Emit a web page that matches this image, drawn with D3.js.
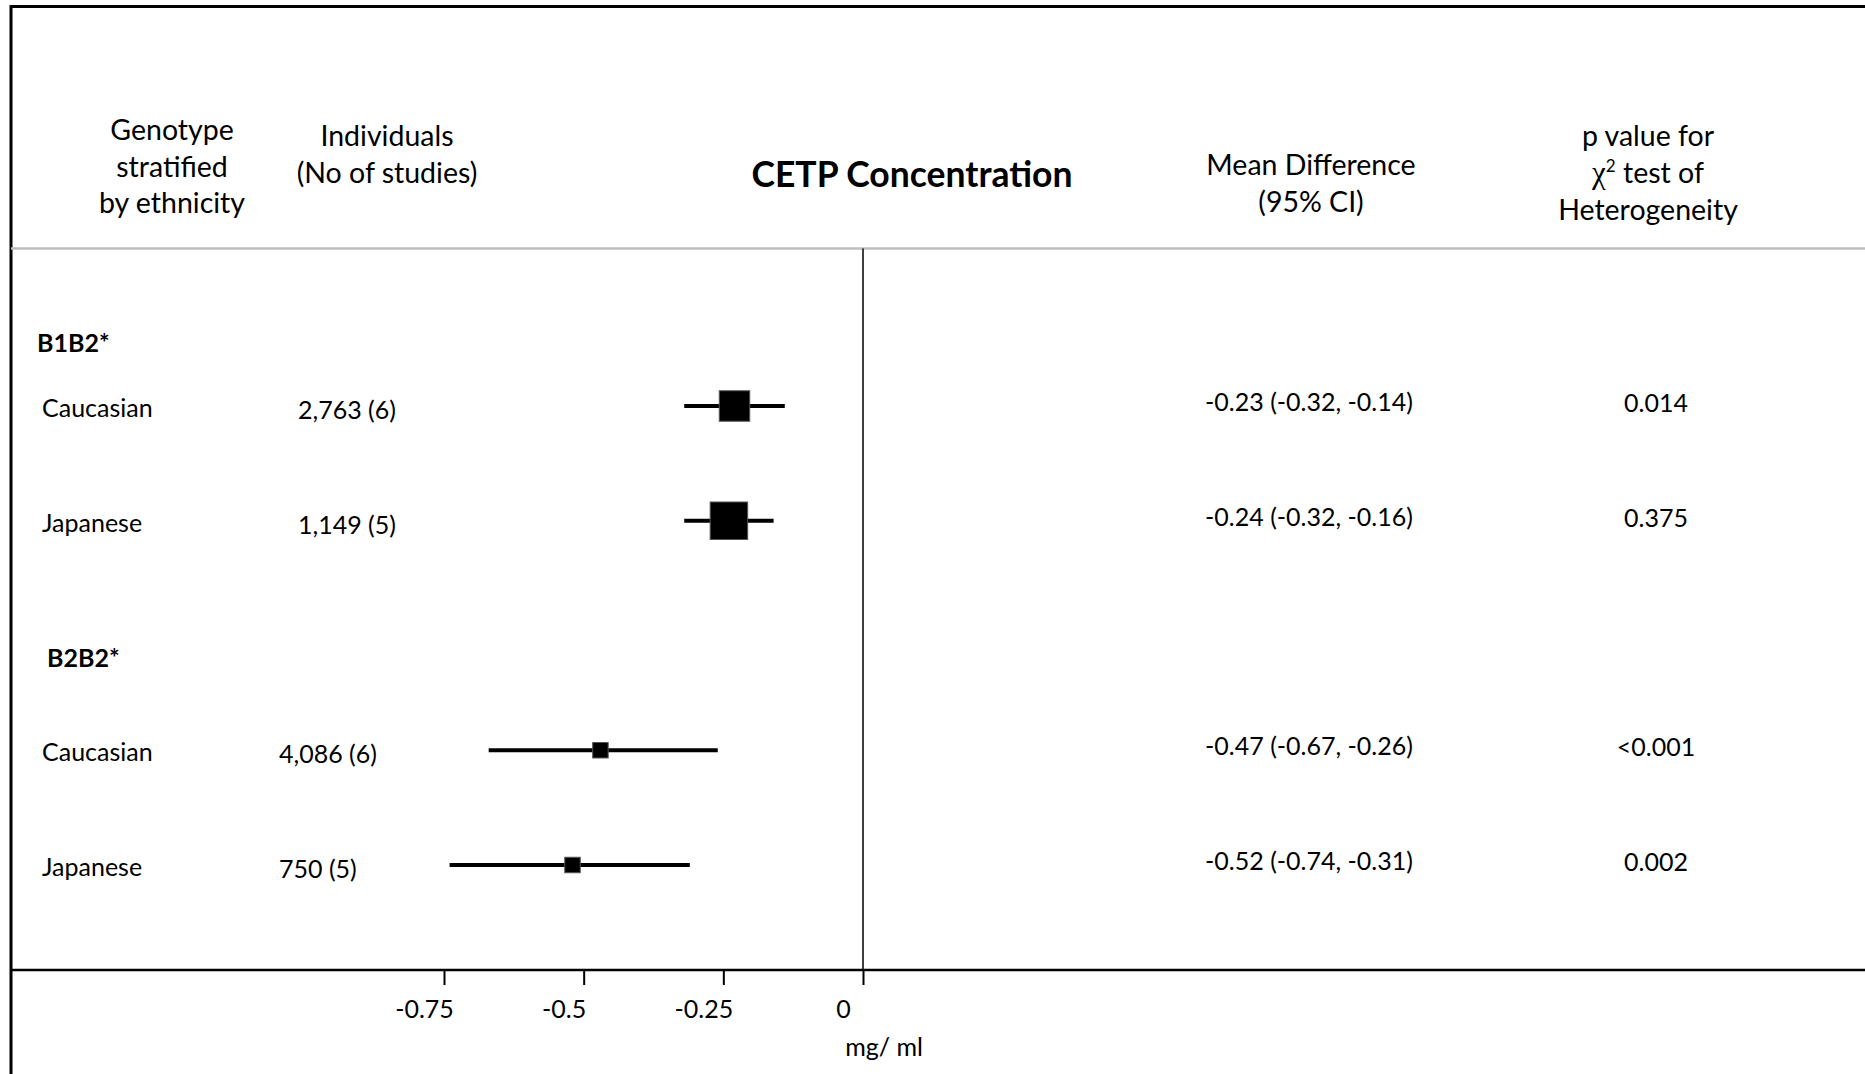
<!DOCTYPE html>
<html>
<head>
<meta charset="utf-8">
<script src="https://cdn.jsdelivr.net/npm/d3@7"></script>
<style>
  body { margin: 0; background: #fff; }
  text { font-family: Lato, "Open Sans", sans-serif; fill: #000; }
</style>
</head>
<body>
<div id="vis"></div>
<script>
const FRAME_WIDTH = 1865;
const FRAME_HEIGHT = 1074;

// data
const genotypes = ["B1B2*", "B2B2*"];
const rowGenotype = ["B1B2*", "B1B2*", "B2B2*", "B2B2*"];
const ethnicity = ["Caucasian", "Japanese", "Caucasian", "Japanese"];
const individuals = ["2,763", "1,149", "4,086", "750"];
const studies = [6, 5, 6, 5];
const meanDiff = [-0.23, -0.24, -0.47, -0.52];
const ciLow = [-0.32, -0.32, -0.67, -0.74];
const ciHigh = [-0.14, -0.16, -0.26, -0.31];
const pValues = ["0.014", "0.375", "<0.001", "0.002"];
const weights = [0.66, 1.0, 0.17, 0.17];
const xTicks = [-0.75, -0.5, -0.25, 0];
const xTickLabels = ["-0.75", "-0.5", "-0.25", "0"];

const rows = ethnicity.map((e, i) => ({
  id: String(i), genotype: rowGenotype[i], ethnicity: e,
  n: individuals[i], k: studies[i], mean: meanDiff[i],
  lo: ciLow[i], hi: ciHigh[i], p: pValues[i], w: weights[i]
}));

const AXIS_Y = 970;
const HEAD_LINE_Y = 248.5;
const BODY_FS = 25;
const HEAD_FS = 28.5;

const svg = d3.select("#vis").append("svg")
  .attr("width", FRAME_WIDTH)
  .attr("height", FRAME_HEIGHT);

svg.append("rect").attr("width", FRAME_WIDTH).attr("height", FRAME_HEIGHT).attr("fill", "#fff");

// scales
const X = d3.scaleLinear().domain([-0.75, 0]).range([444, 863]);
const Y = d3.scalePoint().domain(["0", "1", "gap", "2", "3"]).range([406, 865]);
const S = d3.scaleSqrt().domain([0, d3.max(weights)]).range([0, 37.5]);

// outer frame (cut off on the right and bottom)
svg.append("path")
  .attr("d", `M11,${FRAME_HEIGHT} L11,6.5 L${FRAME_WIDTH},6.5`)
  .attr("fill", "none").attr("stroke", "#000").attr("stroke-width", 3);

// header separator
svg.append("line")
  .attr("x1", 11).attr("x2", FRAME_WIDTH)
  .attr("y1", HEAD_LINE_Y).attr("y2", HEAD_LINE_Y)
  .attr("stroke", "#bdbdbd").attr("stroke-width", 2.5);

// header texts
function multiLine(lines, cx, y0, step, fs) {
  const t = svg.append("text").attr("text-anchor", "middle").attr("font-size", fs);
  lines.forEach((l, i) => {
    t.append("tspan").attr("x", cx).attr("y", y0 + i * step).text(l);
  });
  return t;
}
multiLine(["Genotype", "stratified", "by ethnicity"], 172, 140, 36.5, HEAD_FS);
multiLine(["Individuals", "(No of studies)"], 387, 146, 37, HEAD_FS);
multiLine(["Mean Difference", "(95% CI)"], 1311, 175, 37, HEAD_FS);

const pHead = svg.append("text").attr("text-anchor", "middle").attr("font-size", HEAD_FS);
pHead.append("tspan").attr("x", 1648).attr("y", 146).text("p value for");
const chiLine = pHead.append("tspan").attr("x", 1648).attr("y", 183);
chiLine.append("tspan").attr("font-family", "'Liberation Serif', serif").attr("font-size", 31).text("\u03c7");
chiLine.append("tspan").attr("font-size", 17).attr("dy", -11).text("2");
chiLine.append("tspan").attr("dy", 11).text(" test of");
pHead.append("tspan").attr("x", 1648).attr("y", 220).text("Heterogeneity");

svg.append("text")
  .attr("x", 912).attr("y", 187)
  .attr("text-anchor", "middle")
  .attr("font-size", 35.5).attr("font-weight", "bold")
  .text("CETP Concentration");

// group headers, placed a bit above the gap centre before their first row
svg.selectAll(".grp").data(genotypes).enter().append("text")
  .attr("class", "grp")
  .attr("x", (d, i) => i === 0 ? 37 : 47)
  .attr("y", (d, i) => {
    const first = rowGenotype.indexOf(d);
    const yFirst = Y(String(first));
    const prev = first === 0 ? HEAD_LINE_Y : Y(String(first - 1));
    return yFirst - 0.4 * (yFirst - prev);
  })
  .attr("dy", "0.35em")
  .attr("font-size", BODY_FS).attr("font-weight", "bold")
  .text(d => d);

// zero line
svg.append("line")
  .attr("x1", X(0)).attr("x2", X(0))
  .attr("y1", HEAD_LINE_Y).attr("y2", AXIS_Y)
  .attr("stroke", "#000").attr("stroke-width", 1.5);

// bottom axis line
svg.append("line")
  .attr("x1", 11).attr("x2", FRAME_WIDTH)
  .attr("y1", AXIS_Y).attr("y2", AXIS_Y)
  .attr("stroke", "#000").attr("stroke-width", 2.5);

const axis = svg.append("g")
  .attr("transform", `translate(0,${AXIS_Y})`)
  .call(d3.axisBottom(X).tickValues(xTicks)
    .tickFormat((d, i) => xTickLabels[i]).tickSize(15).tickSizeOuter(0));
axis.select(".domain").remove();
axis.selectAll(".tick line").attr("stroke", "#000").attr("stroke-width", 2);
axis.selectAll(".tick text")
  .attr("font-family", "Lato, sans-serif").attr("font-size", BODY_FS)
  .attr("fill", "#000").attr("y", 39).attr("dy", "0.35em").attr("dx", -20);

svg.append("text")
  .attr("x", 884).attr("y", 1056)
  .attr("text-anchor", "middle").attr("font-size", BODY_FS)
  .text("mg/ ml");

// rows
const r = svg.selectAll(".row").data(rows).enter().append("g").attr("class", "row");

r.append("text")
  .attr("x", 42).attr("y", d => Y(d.id) + 2)
  .attr("dy", "0.35em").attr("font-size", BODY_FS)
  .text(d => d.ethnicity);

r.append("text")
  .attr("x", d => d.genotype === genotypes[0] ? 298 : 279)
  .attr("y", d => Y(d.id) + 4)
  .attr("dy", "0.35em").attr("font-size", BODY_FS)
  .text(d => `${d.n} (${d.k})`);

r.append("line")
  .attr("x1", d => X(d.lo)).attr("x2", d => X(d.hi))
  .attr("y1", d => Y(d.id)).attr("y2", d => Y(d.id))
  .attr("stroke", "#000").attr("stroke-width", 4);

r.append("rect")
  .attr("x", d => X(d.mean) - S(d.w) / 2)
  .attr("y", d => Y(d.id) - S(d.w) / 2)
  .attr("width", d => S(d.w)).attr("height", d => S(d.w))
  .attr("fill", "#000").attr("stroke", "#555").attr("stroke-width", 1);

const fmt = d3.format(".2f");
r.append("text")
  .attr("x", 1309).attr("y", d => Y(d.id) - 4)
  .attr("dy", "0.35em").attr("text-anchor", "middle").attr("font-size", BODY_FS)
  .text(d => `${fmt(d.mean)} (${fmt(d.lo)}, ${fmt(d.hi)})`.replace(/\u2212/g, "-"));

r.append("text")
  .attr("x", 1656).attr("y", d => Y(d.id) - 3)
  .attr("dy", "0.35em").attr("text-anchor", "middle").attr("font-size", BODY_FS)
  .text(d => d.p);
</script>
</body>
</html>
